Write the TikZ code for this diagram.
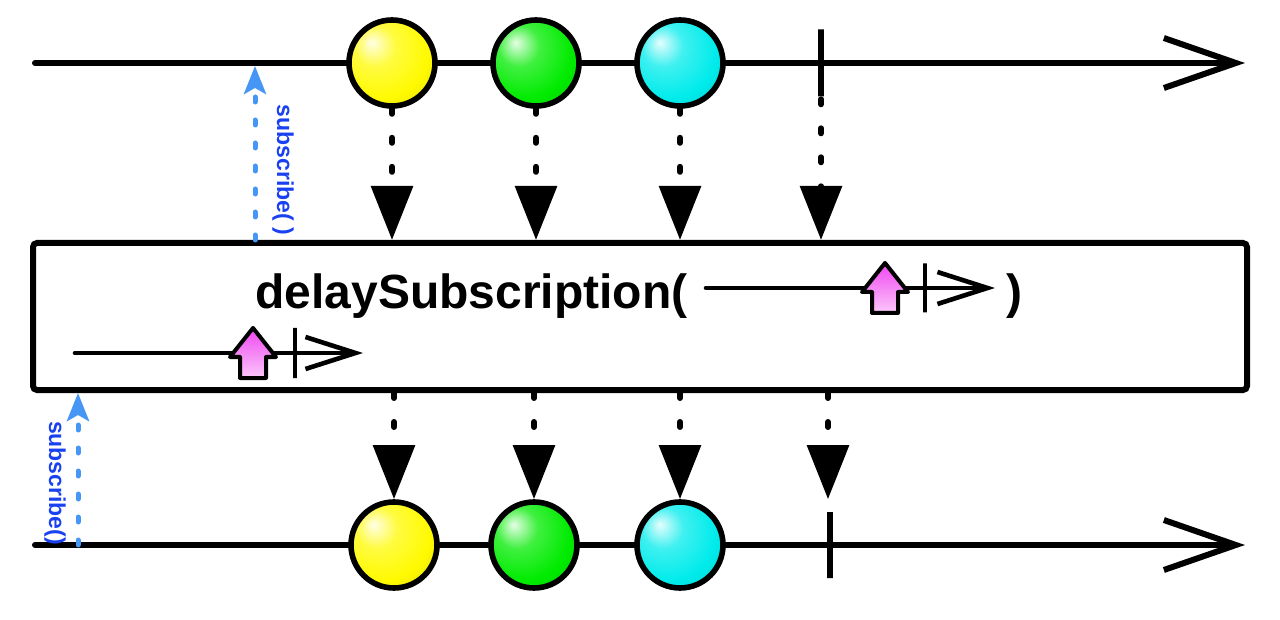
\documentclass[tikz,border=0pt]{standalone}
\usepackage{fontspec}
\setmainfont{Liberation Sans}
\usetikzlibrary{arrows.meta}

\definecolor{subblue}{RGB}{70,150,245}
\definecolor{subtext}{RGB}{25,65,240}
\definecolor{marbleyellow}{RGB}{255,250,0}
\definecolor{marblegreen}{RGB}{0,235,0}
\definecolor{marblecyan}{RGB}{0,235,235}
\definecolor{markpink}{RGB}{240,70,240}

% shading of the marbles
\newcommand{\marbleshade}[2]{%
  \pgfdeclareradialshading{#1}{\pgfpoint{-12bp}{12bp}}{%
    color(0bp)=(#2!10!white); color(12bp)=(#2!75!white);
    color(28bp)=(#2); color(50bp)=(#2!82!black); color(70bp)=(#2!65!black)}}
\marbleshade{yellowball}{marbleyellow}
\marbleshade{greenball}{marblegreen}
\marbleshade{cyanball}{marblecyan}

\tikzset{
  timeline/.style={line width=3pt, line cap=round,
    -{Straight Barb[length=36pt,width=25pt,line width=3pt]}},
  minitimeline/.style={line width=2.3pt, line cap=round,
    -{Straight Barb[length=25pt,width=16pt,line width=2.3pt]}},
  marble/.style={circle, draw, line width=2.8pt, minimum size=43pt, inner sep=0pt},
  endtick/.style={inner sep=0pt, minimum width=0pt, minimum height=#1, draw, line width=2.8pt},
  minitick/.style={inner sep=0pt, minimum width=0pt, minimum height=#1, draw, line width=2.3pt},
  dotarrow/.style={line width=3pt, line cap=round, dash pattern=on 2.5pt off 12pt,
    -{Triangle[length=27pt,width=20.5pt]}},
  subarrow/.style={subblue, line width=2.5pt, line cap=round, dash pattern=on 2.5pt off 9pt,
    -{Stealth[length=14pt,width=11pt,inset=3pt]}},
  sublabel/.style={text=subtext, font=\fontsize{11.5}{14}\selectfont\bfseries, inner sep=0pt},
  optext/.style={font=\fontsize{24}{29}\selectfont\bfseries, inner sep=0pt, anchor=base west},
  pics/upmark/.style={code={
    \filldraw[line width=2pt, line join=round, draw=black,
      top color=markpink, bottom color=markpink!30!white]
      (0,-25) -- (23,4) -- (13,4) -- (13,25) -- (-13,25) -- (-13,4) -- (-23,4) -- cycle;
  }}
}

\begin{document}
\begin{tikzpicture}[x=0.5pt, y=-0.5pt]
  \useasboundingbox (0,0) rectangle (1280,620);

  % operator box
  \node (op) [draw, fill=white, line width=3pt, rounded corners=2pt,
    minimum width=607pt, minimum height=73.5pt] at (640,316.5) {};
  \node (optitle) [optext] at (255,308) {delaySubscription(};
  \node (opclose) [optext] at (1006,308) {)};

  % small timeline of the argument
  \coordinate (m1s) at (706,288);
  \coordinate (m1e) at (995,288);
  \draw[minitimeline] (m1s) -- (m1e);
  \pic at (885,288) {upmark};
  \node (m1t) [minitick=24.5pt] at (925,288) {};

  % small timeline under the title
  \coordinate (m2s) at (75,353);
  \coordinate (m2e) at (363,353);
  \draw[minitimeline] (m2s) -- (m2e);
  \pic at (253,353) {upmark};
  \node (m2t) [minitick=25pt] at (295,353) {};

  % source timeline
  \coordinate (a0) at (35,63);
  \coordinate (a1) at (1245,63);
  \draw[timeline] (a0) -- (a1);
  \node (ya) [marble, shading=yellowball] at (392,63) {};
  \node (ga) [marble, shading=greenball] at (536,63) {};
  \node (ca) [marble, shading=cyanball] at (680,63) {};
  \node (ta) [endtick=33.5pt] at (821,63) {};

  % result timeline
  \coordinate (b0) at (35,545);
  \coordinate (b1) at (1245,545);
  \draw[timeline] (b0) -- (b1);
  \node (yb) [marble, shading=yellowball] at (394,545) {};
  \node (gb) [marble, shading=greenball] at (534,545) {};
  \node (cb) [marble, shading=cyanball] at (680,545) {};
  \node (tb) [endtick=33pt] at (830,545) {};

  % emissions into and out of the operator
  \foreach \m in {ya,ga,ca}
    \draw[dotarrow] (\m.south) -- (\m.south |- op.north);
  \draw[dotarrow] (ta.south) -- (ta.south |- op.north);
  \foreach \m in {yb,gb,cb}
    \draw[dotarrow] (op.south -| \m) -- (\m.north);
  \draw[dotarrow] (op.south -| 828,0) -- ([yshift=5pt]tb.north -| 828,0);

  % subscriptions
  \coordinate (sa) at (255,66);
  \draw[subarrow] (sa |- op.north) -- (sa);
  \node (salabel) [sublabel, rotate=-90] at (283,170) {subscribe( )};
  \coordinate (sb) at (78,393);
  \draw[subarrow] (sb |- b0) -- (sb);
  \node (sblabel) [sublabel, rotate=-90] at (55,483) {subscribe()};
\end{tikzpicture}
\end{document}
